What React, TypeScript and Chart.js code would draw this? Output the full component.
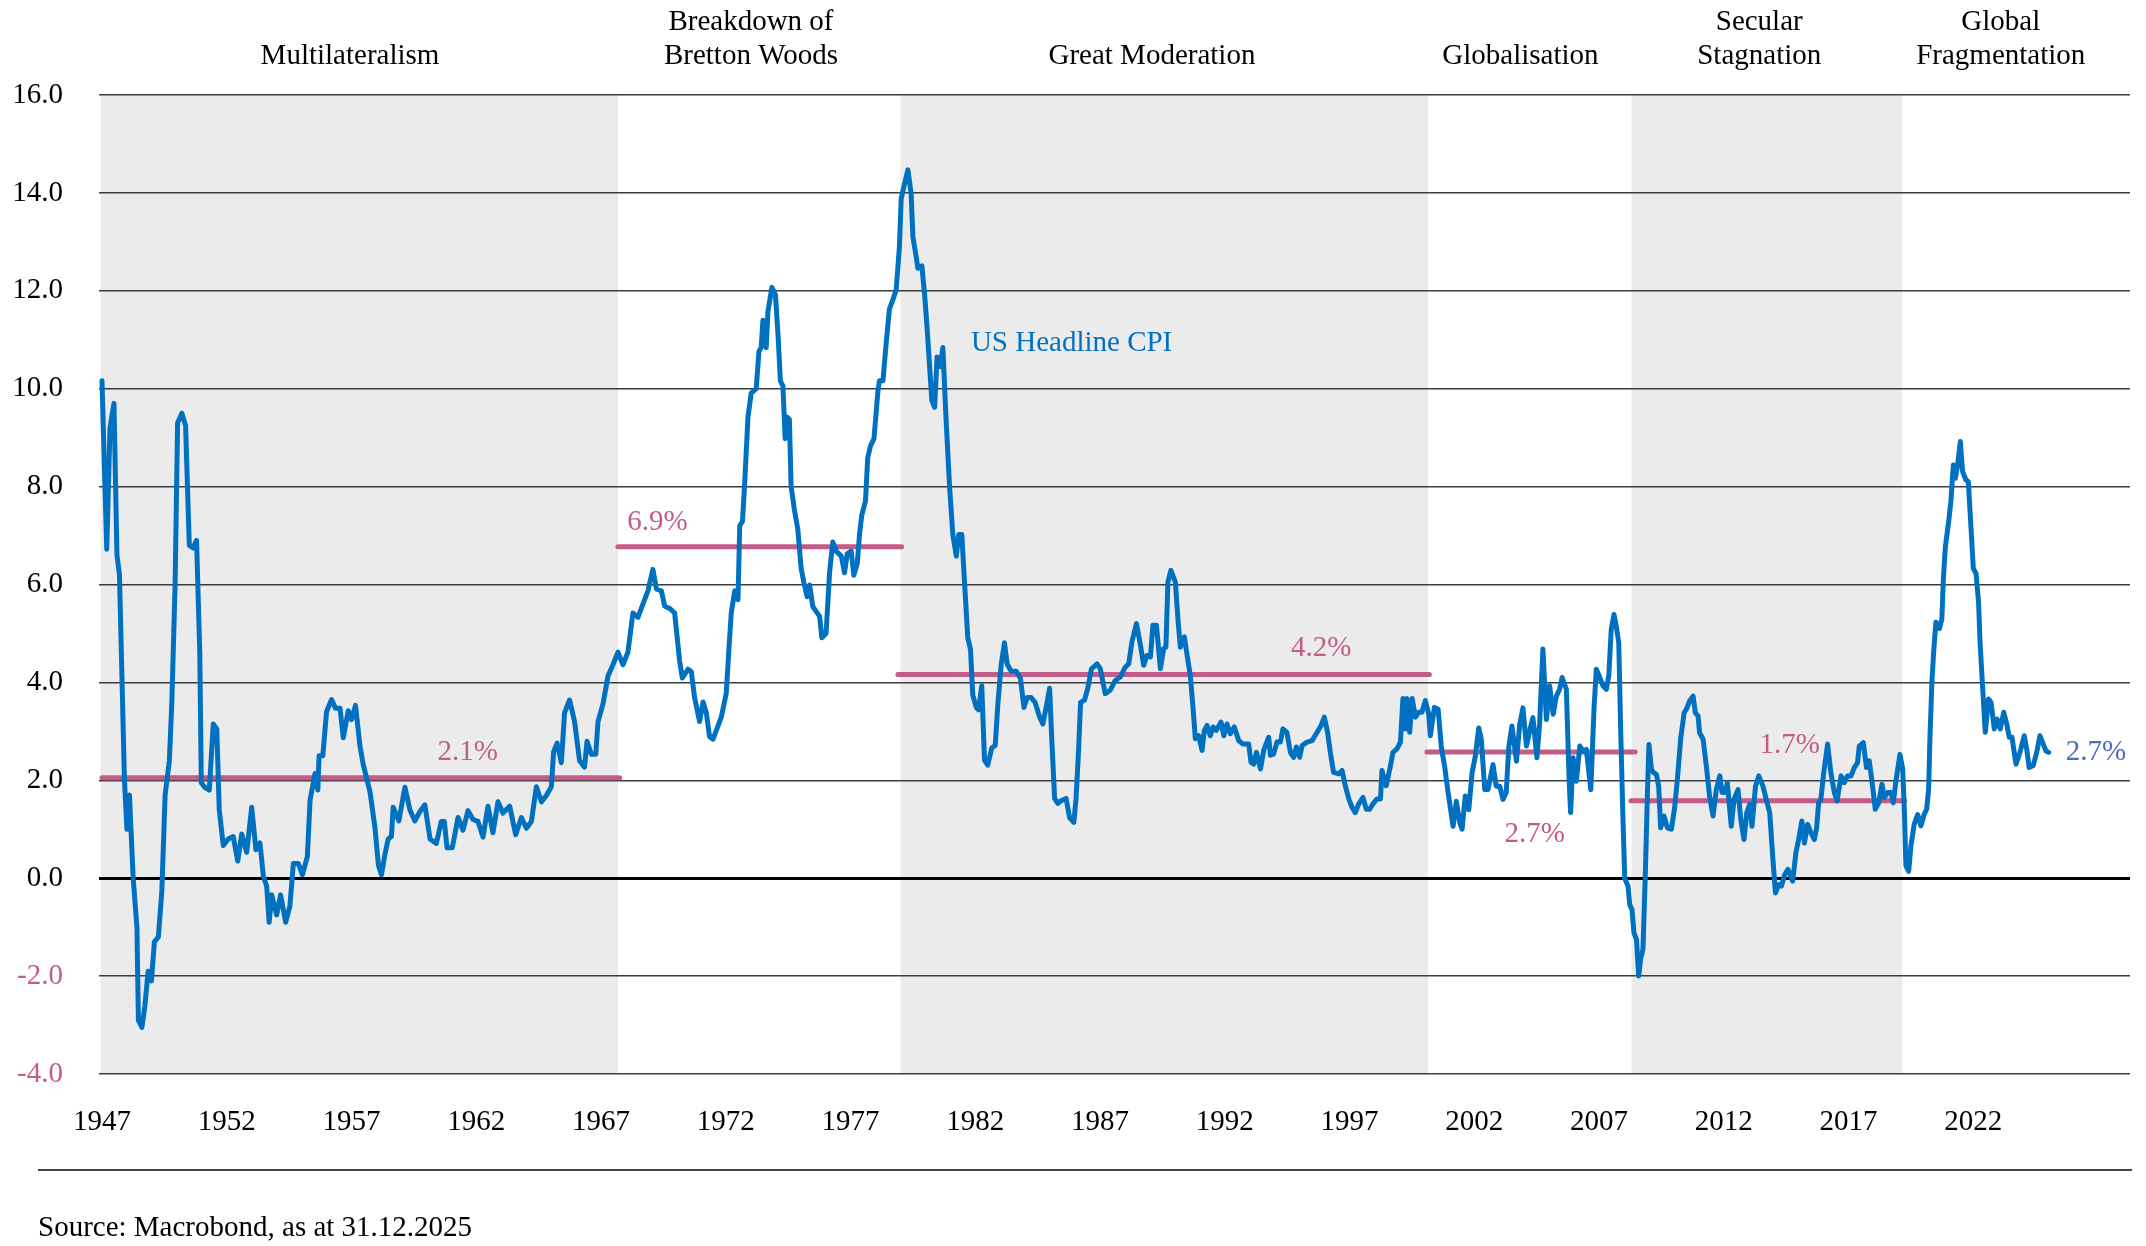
import { useEffect, useRef } from 'react';
import { Chart, registerables } from 'chart.js';

Chart.register(...registerables);

const SERIF = '"Liberation Serif", "Times New Roman", Times, serif';
const BLUE = '#0070C0';
const PINK = '#C45C8A';
const END_BLUE = '#4A6DBE';
const SHADE = '#EBEBEB';

// year-end ticks: the "1947" tick sits on 31.12.1947
const xTickLabels = ['1947', '1952', '1957', '1962', '1967', '1972', '1977', '1982', '1987', '1992', '1997', '2002', '2007', '2012', '2017', '2022'];
const yTicks = [-4, -2, 0, 2, 4, 6, 8, 10, 12, 14, 16];

const eraNames = [
  ['Multilateralism'],
  ['Breakdown of', 'Bretton Woods'],
  ['Great Moderation'],
  ['Globalisation'],
  ['Secular', 'Stagnation'],
  ['Global', 'Fragmentation'],
];

// grey bands behind the line
const shadedFrom = [1947.95, 1980.0, 2009.3];
const shadedTo = [1968.68, 2001.15, 2020.15];

// period averages (the level each bar is drawn at, and its printed value)
const meanFrom = [1948.0, 1968.68, 1979.9, 2001.1, 2009.28];
const meanTo = [1968.75, 1980.05, 2001.2, 2009.45, 2020.25];
const meanLevel = [2.05, 6.77, 4.16, 2.58, 1.58];
const meanLabel = ['2.1%', '6.9%', '4.2%', '2.7%', '1.7%'];

const seriesName = 'US Headline CPI';
const lastLabel = '2.7%';
const sourceText = 'Source: Macrobond, as at 31.12.2025';

// US headline CPI, % y/y as [decimal year, value]
const cpiPoints: [number, number][] = [
  [1948.0, 10.16], [1948.19, 6.72], [1948.32, 9.2], [1948.48, 9.7], [1948.6, 6.6], [1948.7, 6.2], [1948.9, 2.0],
  [1949.0, 1.0], [1949.1, 1.7], [1949.25, 0.0], [1949.4, -1.0], [1949.46, -2.9], [1949.6, -3.05], [1949.72, -2.6],
  [1949.85, -1.9], [1949.98, -2.1], [1950.1, -1.3], [1950.26, -1.2], [1950.4, -0.25], [1950.53, 1.7], [1950.7, 2.4],
  [1950.8, 3.6], [1950.93, 6.0], [1951.03, 9.3], [1951.2, 9.5], [1951.35, 9.25], [1951.5, 6.8], [1951.65, 6.75],
  [1951.79, 6.9], [1951.92, 4.6], [1951.98, 1.95], [1952.13, 1.85], [1952.3, 1.8], [1952.46, 3.15], [1952.6, 3.05],
  [1952.7, 1.4], [1952.86, 0.67], [1953.06, 0.8], [1953.26, 0.85], [1953.44, 0.35], [1953.6, 0.9], [1953.8, 0.53],
  [1954.0, 1.45], [1954.17, 0.58], [1954.33, 0.72], [1954.47, 0.03], [1954.6, -0.16], [1954.7, -0.9], [1954.8, -0.34],
  [1955.0, -0.75], [1955.16, -0.34], [1955.36, -0.9], [1955.53, -0.57], [1955.67, 0.3], [1955.87, 0.3], [1956.03, 0.07],
  [1956.23, 0.44], [1956.34, 1.6], [1956.54, 2.14], [1956.65, 1.8], [1956.7, 2.5], [1956.85, 2.5], [1957.0, 3.4],
  [1957.2, 3.65], [1957.36, 3.47], [1957.54, 3.47], [1957.67, 2.87], [1957.87, 3.42], [1958.0, 3.24], [1958.16, 3.53],
  [1958.34, 2.7], [1958.47, 2.32], [1958.74, 1.77], [1958.94, 1.04], [1959.08, 0.26], [1959.2, 0.07], [1959.34, 0.49],
  [1959.47, 0.8], [1959.6, 0.85], [1959.67, 1.45], [1959.9, 1.17], [1960.14, 1.86], [1960.34, 1.4], [1960.54, 1.17],
  [1960.74, 1.36], [1960.94, 1.5], [1961.15, 0.8], [1961.4, 0.71], [1961.6, 1.16], [1961.72, 1.16], [1961.83, 0.62],
  [1962.04, 0.62], [1962.27, 1.24], [1962.47, 0.98], [1962.67, 1.38], [1962.87, 1.2], [1963.07, 1.16], [1963.27, 0.84],
  [1963.47, 1.47], [1963.67, 0.93], [1963.87, 1.56], [1964.07, 1.33], [1964.34, 1.47], [1964.58, 0.89], [1964.81, 1.24],
  [1965.01, 1.02], [1965.21, 1.16], [1965.41, 1.87], [1965.61, 1.56], [1965.81, 1.69], [1966.01, 1.87], [1966.1, 2.58],
  [1966.24, 2.76], [1966.41, 2.36], [1966.54, 3.38], [1966.74, 3.64], [1966.94, 3.2], [1967.14, 2.4], [1967.34, 2.27],
  [1967.44, 2.8], [1967.61, 2.53], [1967.79, 2.53], [1967.88, 3.2], [1968.08, 3.56], [1968.28, 4.13], [1968.48, 4.36],
  [1968.68, 4.62], [1968.88, 4.36], [1969.08, 4.62], [1969.28, 5.42], [1969.48, 5.33], [1969.68, 5.6], [1969.88, 5.87],
  [1970.08, 6.31], [1970.22, 5.91], [1970.42, 5.87], [1970.55, 5.56], [1970.75, 5.51], [1970.95, 5.42], [1971.15, 4.44],
  [1971.26, 4.09], [1971.49, 4.27], [1971.62, 4.22], [1971.75, 3.69], [1971.95, 3.2], [1972.09, 3.6], [1972.22, 3.38],
  [1972.35, 2.89], [1972.49, 2.84], [1972.69, 3.11], [1972.82, 3.29], [1973.02, 3.78], [1973.13, 4.71], [1973.22, 5.42],
  [1973.36, 5.87], [1973.49, 5.69], [1973.56, 7.2], [1973.67, 7.29], [1973.76, 8.09], [1973.89, 9.42], [1974.02, 9.91],
  [1974.22, 10.0], [1974.33, 10.76], [1974.42, 10.84], [1974.49, 11.4], [1974.62, 10.84], [1974.69, 11.58], [1974.85, 12.07],
  [1974.99, 11.92], [1975.09, 11.14], [1975.19, 10.16], [1975.29, 10.06], [1975.38, 8.98], [1975.46, 9.42], [1975.55, 9.37],
  [1975.62, 8.0], [1975.76, 7.5], [1975.89, 7.12], [1976.02, 6.33], [1976.13, 6.04], [1976.26, 5.75], [1976.36, 5.99],
  [1976.49, 5.55], [1976.62, 5.45], [1976.76, 5.35], [1976.85, 4.91], [1977.02, 5.0], [1977.16, 6.24], [1977.29, 6.87],
  [1977.43, 6.68], [1977.63, 6.58], [1977.76, 6.24], [1977.87, 6.63], [1978.03, 6.68], [1978.13, 6.19], [1978.27, 6.43],
  [1978.36, 7.02], [1978.45, 7.41], [1978.6, 7.71], [1978.69, 8.59], [1978.8, 8.83], [1978.94, 8.98], [1979.1, 9.96],
  [1979.16, 10.16], [1979.3, 10.16], [1979.43, 10.94], [1979.56, 11.63], [1979.7, 11.82], [1979.83, 12.02], [1979.96, 12.9],
  [1980.03, 13.88], [1980.14, 14.13], [1980.3, 14.47], [1980.43, 13.98], [1980.5, 13.1], [1980.63, 12.7], [1980.7, 12.46],
  [1980.86, 12.51], [1980.97, 11.92], [1981.07, 11.24], [1981.17, 10.45], [1981.26, 9.76], [1981.37, 9.62], [1981.47, 10.65],
  [1981.61, 10.45], [1981.7, 10.84], [1981.83, 9.37], [1981.97, 8.0], [1982.1, 7.02], [1982.24, 6.58], [1982.34, 7.02],
  [1982.46, 7.02], [1982.57, 6.04], [1982.7, 4.91], [1982.81, 4.67], [1982.9, 3.74], [1983.04, 3.49], [1983.13, 3.44],
  [1983.26, 3.93], [1983.37, 2.41], [1983.5, 2.31], [1983.66, 2.66], [1983.8, 2.71], [1983.91, 3.59], [1984.04, 4.37],
  [1984.17, 4.81], [1984.28, 4.37], [1984.44, 4.23], [1984.64, 4.23], [1984.81, 4.08], [1984.95, 3.49], [1985.08, 3.69],
  [1985.24, 3.69], [1985.4, 3.59], [1985.58, 3.29], [1985.71, 3.15], [1985.84, 3.49], [1985.98, 3.88], [1986.07, 2.8],
  [1986.18, 1.63], [1986.31, 1.53], [1986.44, 1.58], [1986.64, 1.63], [1986.78, 1.24], [1986.95, 1.14], [1987.04, 1.63],
  [1987.14, 2.61], [1987.22, 3.59], [1987.38, 3.64], [1987.51, 3.88], [1987.65, 4.27], [1987.88, 4.38], [1988.01, 4.28],
  [1988.21, 3.77], [1988.41, 3.84], [1988.61, 4.04], [1988.81, 4.11], [1989.01, 4.31], [1989.15, 4.38], [1989.28, 4.83],
  [1989.46, 5.2], [1989.62, 4.76], [1989.75, 4.35], [1989.88, 4.55], [1990.02, 4.52], [1990.12, 5.17], [1990.26, 5.17],
  [1990.42, 4.28], [1990.55, 4.69], [1990.64, 4.72], [1990.72, 6.05], [1990.84, 6.29], [1991.02, 6.05], [1991.13, 5.24],
  [1991.22, 4.72], [1991.38, 4.93], [1991.49, 4.55], [1991.62, 4.14], [1991.73, 3.46], [1991.82, 2.85], [1991.95, 2.91],
  [1992.09, 2.61], [1992.18, 3.02], [1992.29, 3.12], [1992.42, 2.91], [1992.53, 3.09], [1992.66, 3.02], [1992.85, 3.19],
  [1992.96, 2.91], [1993.09, 3.15], [1993.22, 2.95], [1993.38, 3.09], [1993.56, 2.81], [1993.73, 2.74], [1993.96, 2.74],
  [1994.05, 2.37], [1994.16, 2.33], [1994.27, 2.57], [1994.43, 2.23], [1994.56, 2.61], [1994.76, 2.88], [1994.83, 2.51],
  [1994.96, 2.54], [1995.09, 2.78], [1995.23, 2.78], [1995.33, 3.05], [1995.49, 2.98], [1995.63, 2.57], [1995.76, 2.47],
  [1995.87, 2.68], [1996.0, 2.47], [1996.1, 2.71], [1996.3, 2.78], [1996.5, 2.81], [1996.7, 2.98], [1996.86, 3.12],
  [1996.99, 3.29], [1997.12, 2.98], [1997.23, 2.57], [1997.36, 2.16], [1997.56, 2.13], [1997.7, 2.2], [1997.83, 1.89],
  [1997.97, 1.62], [1998.1, 1.45], [1998.23, 1.34], [1998.37, 1.52], [1998.54, 1.65], [1998.67, 1.41], [1998.81, 1.41],
  [1998.94, 1.52], [1999.1, 1.62], [1999.24, 1.62], [1999.3, 2.2], [1999.39, 2.03], [1999.47, 1.89], [1999.63, 2.27],
  [1999.74, 2.57], [1999.9, 2.64], [2000.04, 2.78], [2000.14, 3.67], [2000.24, 3.05], [2000.3, 3.67], [2000.41, 2.98],
  [2000.51, 3.67], [2000.64, 3.29], [2000.77, 3.39], [2000.9, 3.39], [2001.04, 3.63], [2001.17, 3.36], [2001.24, 2.91],
  [2001.4, 3.49], [2001.55, 3.45], [2001.68, 2.67], [2001.81, 2.29], [2001.95, 1.75], [2002.15, 1.06], [2002.28, 1.57],
  [2002.42, 1.13], [2002.51, 1.0], [2002.64, 1.68], [2002.78, 1.4], [2002.91, 2.15], [2003.04, 2.49], [2003.18, 3.07],
  [2003.28, 2.84], [2003.42, 1.81], [2003.55, 1.81], [2003.75, 2.32], [2003.88, 1.88], [2004.02, 1.88], [2004.15, 1.61],
  [2004.28, 1.75], [2004.38, 2.67], [2004.51, 3.11], [2004.69, 2.39], [2004.82, 3.14], [2004.95, 3.48], [2005.09, 2.7],
  [2005.22, 3.01], [2005.35, 3.28], [2005.51, 2.46], [2005.62, 3.18], [2005.75, 4.68], [2005.89, 3.24], [2006.02, 3.93],
  [2006.16, 3.35], [2006.29, 3.72], [2006.42, 3.86], [2006.52, 4.1], [2006.69, 3.86], [2006.8, 2.02], [2006.86, 1.34],
  [2006.96, 2.46], [2007.09, 1.98], [2007.23, 2.7], [2007.36, 2.6], [2007.49, 2.63], [2007.67, 1.81], [2007.8, 3.48],
  [2007.89, 4.27], [2008.03, 4.1], [2008.16, 3.93], [2008.29, 3.86], [2008.39, 4.13], [2008.49, 5.09], [2008.6, 5.39],
  [2008.69, 5.15], [2008.79, 4.81], [2008.87, 2.97], [2008.96, 1.2], [2009.03, 0.0], [2009.16, -0.16], [2009.23, -0.54],
  [2009.32, -0.64], [2009.4, -1.12], [2009.5, -1.25], [2009.59, -2.0], [2009.67, -1.63], [2009.76, -1.46], [2009.86, 0.18],
  [2009.94, 1.75], [2010.0, 2.73], [2010.1, 2.22], [2010.2, 2.15], [2010.3, 2.12], [2010.39, 1.88], [2010.47, 1.03],
  [2010.6, 1.27], [2010.74, 1.03], [2010.9, 1.0], [2011.03, 1.44], [2011.14, 2.02], [2011.27, 2.84], [2011.41, 3.38],
  [2011.5, 3.45], [2011.63, 3.62], [2011.77, 3.72], [2011.86, 3.38], [2011.97, 3.31], [2012.03, 2.97], [2012.17, 2.84],
  [2012.3, 2.29], [2012.43, 1.68], [2012.57, 1.27], [2012.7, 1.81], [2012.84, 2.09], [2012.93, 1.75], [2013.06, 1.75],
  [2013.14, 1.95], [2013.3, 1.06], [2013.41, 1.61], [2013.57, 1.81], [2013.68, 1.2], [2013.81, 0.79], [2013.92, 1.34],
  [2014.04, 1.51], [2014.13, 1.06], [2014.27, 1.88], [2014.4, 2.09], [2014.57, 1.88], [2014.7, 1.61], [2014.84, 1.34],
  [2014.97, 0.38], [2015.07, -0.3], [2015.2, -0.13], [2015.31, -0.16], [2015.44, 0.07], [2015.57, 0.18], [2015.76, -0.06],
  [2015.89, 0.52], [2016.0, 0.79], [2016.13, 1.17], [2016.23, 0.72], [2016.36, 1.1], [2016.49, 0.93], [2016.63, 0.79],
  [2016.72, 1.03], [2016.8, 1.54], [2016.89, 1.61], [2016.99, 2.09], [2017.16, 2.74], [2017.29, 2.16], [2017.43, 1.75],
  [2017.54, 1.58], [2017.7, 2.09], [2017.83, 1.95], [2017.96, 2.09], [2018.1, 2.09], [2018.23, 2.26], [2018.36, 2.36],
  [2018.43, 2.7], [2018.59, 2.77], [2018.72, 2.26], [2018.83, 2.4], [2018.96, 1.89], [2019.07, 1.41], [2019.21, 1.54],
  [2019.34, 1.92], [2019.43, 1.65], [2019.57, 1.75], [2019.7, 1.75], [2019.79, 1.54], [2019.9, 1.99], [2020.06, 2.53],
  [2020.17, 2.23], [2020.23, 1.48], [2020.3, 0.25], [2020.41, 0.14], [2020.5, 0.66], [2020.63, 1.1], [2020.77, 1.3],
  [2020.9, 1.07], [2021.03, 1.3], [2021.13, 1.41], [2021.21, 1.82], [2021.26, 2.84], [2021.34, 4.0], [2021.41, 4.62],
  [2021.5, 5.23], [2021.64, 5.1], [2021.74, 5.3], [2021.8, 6.12], [2021.88, 6.77], [2022.01, 7.28], [2022.1, 7.69],
  [2022.2, 8.44], [2022.28, 8.17], [2022.37, 8.44], [2022.48, 8.92], [2022.57, 8.31], [2022.7, 8.14], [2022.8, 8.1],
  [2022.91, 7.14], [2023.0, 6.33], [2023.11, 6.22], [2023.21, 5.64], [2023.27, 4.82], [2023.37, 3.93], [2023.48, 2.98],
  [2023.61, 3.66], [2023.71, 3.59], [2023.84, 3.05], [2023.95, 3.25], [2024.08, 3.05], [2024.22, 3.39], [2024.34, 3.15],
  [2024.44, 2.88], [2024.55, 2.88], [2024.71, 2.33], [2024.87, 2.57], [2025.04, 2.91], [2025.14, 2.64], [2025.24, 2.26],
  [2025.4, 2.3], [2025.54, 2.57], [2025.67, 2.91], [2025.78, 2.77], [2025.91, 2.6], [2026.02, 2.57],
];

// where the annotations sit (data coordinates) and the page furniture (pixels)
const eraLabelX = [1957.94, 1974.01, 1990.08, 2004.85, 2014.42, 2024.1];
const meanLabelAt: [number, number][] = [[1962.66, 2.56], [1970.26, 7.27], [1996.86, 4.69], [2005.42, 0.89], [2015.64, 2.72]];
const seriesNameAt: [number, number] = [1986.86, 10.93];
const lastLabelAt: [number, number] = [2027.92, 2.57];

const W = 2146;
const H = 1246;
const FONT_SIZE = 29;
const FONT = `${FONT_SIZE}px ${SERIF}`;

const decorPlugin = {
  id: 'decor',
  beforeDraw(chart: any) {
    const { ctx, chartArea: a } = chart;
    const x = chart.scales.x;
    ctx.save();
    ctx.fillStyle = '#fff';
    ctx.fillRect(0, 0, chart.width, chart.height);
    ctx.fillStyle = SHADE;
    shadedFrom.forEach((from, i) => {
      const l = Math.max(a.left, x.getPixelForValue(from));
      const r = Math.min(a.right, x.getPixelForValue(shadedTo[i]));
      ctx.fillRect(l, a.top, r - l, a.bottom - a.top);
    });
    ctx.restore();
  },
  afterDraw(chart: any) {
    const { ctx } = chart;
    const x = chart.scales.x;
    const y = chart.scales.y;
    ctx.save();
    ctx.font = FONT;
    ctx.textAlign = 'center';
    ctx.textBaseline = 'middle';

    // era headers
    ctx.fillStyle = '#000';
    eraNames.forEach((lines, i) => {
      const px = x.getPixelForValue(eraLabelX[i]);
      lines.forEach((t, j) => {
        ctx.fillText(t, px, 56 - (lines.length - 1 - j) * 34);
      });
    });

    // period averages
    ctx.fillStyle = PINK;
    meanLabel.forEach((t, i) => {
      ctx.fillText(t, x.getPixelForValue(meanLabelAt[i][0]), y.getPixelForValue(meanLabelAt[i][1]));
    });

    ctx.fillStyle = BLUE;
    ctx.fillText(seriesName, x.getPixelForValue(seriesNameAt[0]), y.getPixelForValue(seriesNameAt[1]));
    ctx.fillStyle = END_BLUE;
    ctx.fillText(lastLabel, x.getPixelForValue(lastLabelAt[0]), y.getPixelForValue(lastLabelAt[1]));

    // footer rule and source
    ctx.strokeStyle = '#444';
    ctx.lineWidth = 2;
    ctx.beginPath();
    ctx.moveTo(38, 1170);
    ctx.lineTo(2132, 1170);
    ctx.stroke();
    ctx.fillStyle = '#000';
    ctx.textAlign = 'left';
    ctx.fillText(sourceText, 38, 1228);
    ctx.restore();
  },
};

export default function App() {
  const canvasRef = useRef<HTMLCanvasElement | null>(null);
  const chartRef = useRef<Chart | null>(null);

  useEffect(() => {
    if (!canvasRef.current) return;
    if (chartRef.current) chartRef.current.destroy();

    const meanSets = meanLevel.map((level, i) => ({
      label: meanLabel[i],
      data: [
        { x: meanFrom[i], y: level },
        { x: meanTo[i], y: level },
      ],
      borderColor: PINK,
      borderWidth: 5,
      borderCapStyle: 'round' as const,
      pointRadius: 0,
    }));

    chartRef.current = new Chart(canvasRef.current, {
      type: 'line',
      data: {
        datasets: [
          {
            label: seriesName,
            data: cpiPoints.map(([px, py]) => ({ x: px, y: py })),
            borderColor: BLUE,
            borderWidth: 5,
            borderJoinStyle: 'round',
            borderCapStyle: 'round',
            pointRadius: 0,
            tension: 0,
          },
          ...meanSets,
        ],
      },
      options: {
        responsive: false,
        animation: false,
        events: [],
        font: { family: SERIF },
        layout: { padding: { top: 95, right: W - 2130, left: 0, bottom: 0 } },
        plugins: {
          legend: { display: false },
          tooltip: { enabled: false },
        },
        scales: {
          x: {
            type: 'linear',
            min: 1947.88,
            max: 2029.28,
            grid: { display: false },
            border: { display: false },
            afterBuildTicks: (scale: any) => {
              scale.ticks = xTickLabels.map((l) => ({ value: Number(l) + 1 }));
            },
            afterFit: (scale: any) => {
              scale.height = H - 1074;
            },
            ticks: {
              autoSkip: false,
              maxRotation: 0,
              padding: 23,
              color: '#000',
              font: { family: SERIF, size: FONT_SIZE },
              callback: (v: any) => String(Math.round(Number(v)) - 1),
            },
          },
          y: {
            min: -4,
            max: 16,
            border: { display: false },
            afterBuildTicks: (scale: any) => {
              scale.ticks = yTicks.map((v) => ({ value: v }));
            },
            afterFit: (scale: any) => {
              scale.width = 99;
            },
            grid: {
              drawTicks: false,
              color: (c: any) => (c.tick && c.tick.value === 0 ? '#000' : '#3c3c3c'),
              lineWidth: (c: any) => (c.tick && c.tick.value === 0 ? 3 : 1.6),
            },
            ticks: {
              padding: 36,
              color: (c: any) => (c.tick && c.tick.value < 0 ? PINK : '#000'),
              font: { family: SERIF, size: FONT_SIZE },
              callback: (v: any) => Number(v).toFixed(1),
            },
          },
        },
      },
      plugins: [decorPlugin],
    });

    return () => {
      if (chartRef.current) {
        chartRef.current.destroy();
        chartRef.current = null;
      }
    };
  }, []);

  return (
    <div style={{ position: 'absolute', left: 0, top: 0, width: W, height: H, background: '#fff' }}>
      <canvas ref={canvasRef} width={W} height={H} style={{ display: 'block', width: W, height: H }}></canvas>
    </div>
  );
}
